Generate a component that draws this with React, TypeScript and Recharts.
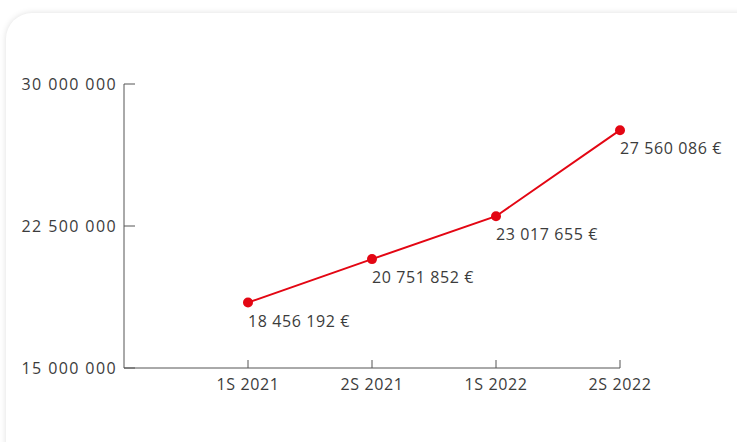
import React from "react";
import { LineChart, Line, XAxis, YAxis, LabelList } from "recharts";

const categories = ["1S 2021", "2S 2021", "1S 2022", "2S 2022"];
const values = [18456192, 20751852, 23017655, 27560086];
const yTicks = [15000000, 22500000, 30000000];

const data = categories.map((c, i) => ({ idx: i + 1, name: c, value: values[i] }));

const fmt = (n: number) => String(Math.round(n)).replace(/\B(?=(\d{3})+(?!\d))/g, " ");

const FONT = "'Open Sans', sans-serif";
const TEXT = "#3c3c3c";

const ValueLabel = (props: any) => {
  const { x, y, value } = props;
  return (
    <text x={x} y={y + 24} fill={TEXT} fontSize={16} letterSpacing={0.6} fontFamily={FONT} textAnchor="start">
      {fmt(value)} €
    </text>
  );
};

export default function App() {
  return (
    <div style={{ position: "absolute", left: 0, top: 0, width: 737, height: 442, overflow: "hidden", background: "#fff" }}>
      <div
        style={{
          position: "absolute",
          left: 6,
          top: 13,
          width: 780,
          height: 480,
          borderRadius: 26,
          background: "#fff",
          boxShadow: "0 0 6px rgba(0,0,0,0.13)",
        }}
      />
      <div style={{ position: "absolute", left: 0, top: 0 }}>
        <LineChart width={737} height={442} data={data} margin={{ top: 84, right: 117, bottom: 44, left: 0 }}>
          <XAxis
            dataKey="idx"
            type="number"
            domain={[0, 4]}
            ticks={[1, 2, 3, 4]}
            tickFormatter={(v: number) => categories[v - 1] ?? ""}
            height={30}
            stroke="#555"
            tickSize={-8}
            tickMargin={19}
            tick={{ fill: TEXT, fontSize: 16, fontFamily: FONT, letterSpacing: 0.6 }}
          />
          <YAxis
            type="number"
            domain={[15000000, 30000000]}
            ticks={yTicks}
            width={124}
            stroke="#555"
            tickSize={-11}
            tickMargin={18}
            tickFormatter={fmt}
            tick={{ fill: TEXT, fontSize: 16, fontFamily: FONT, letterSpacing: 1.4 }}
          />
          <Line
            dataKey="value"
            stroke="#e30613"
            strokeWidth={2}
            dot={{ r: 5, fill: "#e30613", stroke: "#e30613", strokeWidth: 0 }}
            isAnimationActive={false}
          >
            <LabelList dataKey="value" content={<ValueLabel />} />
          </Line>
        </LineChart>
      </div>
    </div>
  );
}
